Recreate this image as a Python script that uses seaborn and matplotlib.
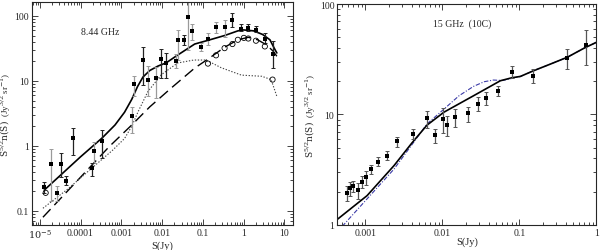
import numpy as np
import pandas as pd
import seaborn as sns
import matplotlib.pyplot as plt

# ---- 8.44 GHz panel ----
# data points with black error bars
s844_k = [1.3e-5, 3.4e-5, 4.5e-5, 6.5e-5, 1.95e-4, 3.4e-4, 3.4e-3, 9.3e-3, 1.25e-2, 3.4e-2, 0.53, 0.88, 1.28, 2.0, 3.3, 5.2]
n844_k = [0.23, 0.53, 0.29, 1.32, 0.45, 1.2, 21, 21.7, 18.9, 43, 88, 64, 66, 60, 45, 26]
lo844_k = [0.19, 0.33, 0.25, 0.72, 0.34, 0.65, 8.6, 11, 11, 36, 67, 58, 58, 56, 38, 16]
hi844_k = [0.28, 0.78, 0.34, 1.9, 0.55, 1.75, 33, 31, 26.6, 51, 111, 75, 75, 70, 55, 41]
# data points with grey error bars
s844_g = [1.9e-5, 2.6e-5, 2.1e-4, 1.8e-3, 2.0e-3, 4.4e-3, 6.9e-3, 2.24e-2, 2.4e-2, 4.4e-2, 5.5e-2, 0.089, 0.133, 0.21, 0.34]
n844_g = [0.53, 0.19, 0.85, 2.86, 9.0, 10.4, 11.1, 20, 43, 96, 58, 33, 45, 67, 67]
lo844_g = [0.14, 0.14, 0.55, 1.6, 5.8, 5.8, 5.5, 16, 21, 30, 43, 28.5, 36, 55, 48]
hi844_g = [0.9, 0.24, 1.15, 4.0, 12, 16.8, 16.5, 26, 61, 200, 75, 38, 55, 81, 88]
# open circles
s844_o = [1.4e-5, 0.133, 0.21, 0.34, 0.53, 0.72, 1.01, 1.3, 2.0, 3.3, 5.1]
n844_o = [0.19, 18.5, 24.8, 32, 37, 43, 46, 45, 41.6, 34, 10.5]
# model curves
tot_s = [1.3e-5, 1e-4, 3.4e-4, 7e-4, 1.2e-3, 1.8e-3, 2.5e-3, 3.4e-3, 5e-3, 8e-3, 0.0126, 0.024, 0.063, 0.13, 0.34, 0.72, 1.0, 1.75, 2.9, 4.4, 5.6, 6.5]
tot_n = [0.21, 0.68, 1.33, 2.1, 3.3, 5.2, 8.2, 11.5, 14.5, 17, 19, 25, 37, 42, 50, 59, 61, 59, 52, 43, 32, 27]
dash_s = [1.2e-5, 1e-4, 5e-4, 1.8e-3, 5e-3, 0.0168, 0.063, 0.133, 0.34, 0.72, 1.3, 2.2, 3.6, 5.2, 6.5]
dash_n = [0.08, 0.33, 0.97, 2.1, 4.0, 7.8, 15.8, 21.7, 33, 43, 47, 43, 36, 29, 24]
dot_s = [1.2e-5, 5e-5, 2e-4, 6e-4, 1.2e-3, 1.8e-3, 2.6e-3, 4.5e-3, 9.6e-3, 0.024, 0.06, 0.12, 0.28, 0.88, 2.8, 4.7, 6.5]
dot_n = [0.11, 0.22, 0.47, 0.85, 1.3, 2.0, 3.4, 6.9, 12.5, 18.9, 21, 21, 16, 12.3, 11.8, 10.5, 5.8]

# ---- 15 GHz (10C) panel ----
s15 = [5.7e-4, 6.3e-4, 7.0e-4, 7.9e-4, 9.1e-4, 1.03e-3, 1.19e-3, 1.44e-3, 1.92e-3, 2.6e-3, 4.2e-3, 6.3e-3, 8.1e-3,
       0.0102, 0.0116, 0.0147, 0.0213, 0.0291, 0.0366, 0.0523, 0.080, 0.149, 0.42, 0.73]
n15 = [1.95, 2.15, 2.27, 2.09, 2.47, 2.73, 3.2, 3.74, 4.24, 5.7, 6.65, 9.25, 6.5,
       9.1, 8.0, 9.44, 10.3, 12.4, 14.0, 16.4, 24.4, 22.4, 32.2, 42.6]
lo15 = [1.66, 1.84, 2.0, 1.7, 2.15, 2.3, 2.9, 3.4, 3.85, 5.1, 6.0, 7.5, 5.5,
        6.8, 6.4, 7.7, 8.6, 10.8, 12.2, 14.6, 21.2, 19.3, 25.8, 28]
hi15 = [2.24, 2.47, 2.5, 2.4, 2.8, 3.1, 3.5, 4.1, 4.65, 6.3, 7.4, 10.8, 7.4,
        11.4, 9.75, 11.2, 11.6, 14.3, 15.9, 18.0, 27.7, 25.8, 39, 58.6]
mod15_s = [4.3e-4, 1.05e-3, 2.35e-3, 4e-3, 6.3e-3, 0.0105, 0.0255, 0.0566, 0.08, 0.103, 0.153, 0.25, 0.42, 0.7, 1.0]
mod15_n = [1.12, 1.84, 3.44, 5.5, 8.0, 10.5, 14.8, 20.2, 21.5, 22.1, 24.9, 28.5, 33, 40, 45]
alt15_s = [5.0e-4, 1.05e-3, 2.35e-3, 4e-3, 6.3e-3, 0.0105, 0.0165, 0.0255, 0.035, 0.046, 0.06, 0.08, 0.103, 0.153, 0.25, 0.42, 0.7, 1.0]
alt15_n = [0.97, 1.72, 3.2, 5.3, 8.2, 11.2, 14.8, 18.0, 19.8, 20.5, 20.3, 21.2, 22.1, 24.9, 28.5, 33, 40, 45]

sns.set_style("ticks")
plt.rcParams["font.family"] = ["Liberation Serif", "DejaVu Serif"]
plt.rcParams["mathtext.fontset"] = "dejavuserif"

YLABEL = r"$\mathrm{S^{5/2}n(S)}$  (Jy$^{3/2}$ sr$^{-1}$)"


def errbars(ax, s, n, lo, hi, color):
    n = np.array(n)
    yerr = [n - np.array(lo), np.array(hi) - n]
    ax.errorbar(s, n, yerr=yerr, fmt="none", ecolor=color, elinewidth=0.9, capsize=1.6, capthick=0.7, zorder=2)


def curve(ax, s, n, **kw):
    df = pd.DataFrame({"S": s, "N": n})
    sns.lineplot(data=df, x="S", y="N", ax=ax, sort=False, estimator=None, **kw)


def style_axes(ax):
    ax.set_xscale("log")
    ax.set_yscale("log")
    ax.tick_params(which="both", direction="in", top=True, right=True, labelsize=7, width=0.6, pad=2)
    ax.tick_params(which="major", length=4)
    ax.tick_params(which="minor", length=2)
    for sp in ax.spines.values():
        sp.set_linewidth(0.8)
    ax.set_xlabel("S(Jy)", fontsize=7.5, labelpad=0)
    ax.set_ylabel(YLABEL, fontsize=6.5, labelpad=1)


fig = plt.figure(figsize=(6, 2.51), dpi=100)
ax1 = fig.add_axes([0.053, 0.100, 0.435, 0.888])
ax2 = fig.add_axes([0.562, 0.100, 0.432, 0.880])

# left panel
curve(ax1, tot_s, tot_n, color="black", linewidth=1.2)
curve(ax1, dash_s, dash_n, color="black", linewidth=1.0, linestyle=(0, (8, 4)))
curve(ax1, dot_s, dot_n, color="#444444", linewidth=0.8, linestyle=(0, (1.2, 1.5)))
errbars(ax1, s844_g, n844_g, lo844_g, hi844_g, "#9a9a9a")
errbars(ax1, s844_k, n844_k, lo844_k, hi844_k, "#222222")
sns.scatterplot(x=s844_k + s844_g, y=n844_k + n844_g, ax=ax1, marker="s", s=7, color="black", linewidth=0, zorder=3)
sns.scatterplot(x=s844_o, y=n844_o, ax=ax1, marker="o", s=14, facecolors="none", edgecolors="black", linewidth=0.6, zorder=3)
style_axes(ax1)
ax1.set_xlim(6.4e-6, 16)
ax1.set_ylim(0.061, 164)
ax1.set_xticks([1e-5, 1e-4, 1e-3, 1e-2, 0.1, 1, 10],
               [r"$10^{-5}$", "0.0001", "0.001", "0.01", "0.1", "1", "10"])
ax1.set_yticks([0.1, 1, 10, 100], ["0.1", "1", "10", "100"])
ax1.text(0.19, 0.866, "8.44 GHz", transform=ax1.transAxes, fontsize=7, va="center")

# right panel
curve(ax2, alt15_s, alt15_n, color="#3b3ba8", linewidth=0.8, linestyle=(0, (4, 1.5, 1, 1.5)))
curve(ax2, mod15_s, mod15_n, color="black", linewidth=1.2)
errbars(ax2, s15, n15, lo15, hi15, "#555555")
sns.scatterplot(x=s15, y=n15, ax=ax2, marker="s", s=7, color="black", linewidth=0, zorder=3)
style_axes(ax2)
ax2.set_xlim(4.3e-4, 1.0)
ax2.set_ylim(1, 100)
ax2.set_xticks([1e-3, 1e-2, 0.1, 1], ["0.001", "0.01", "0.1", "1"])
ax2.set_yticks([1, 10, 100], ["1", "10", "100"])
ax2.text(0.37, 0.914, "15 GHz  (10C)", transform=ax2.transAxes, fontsize=7, va="center")

fig.savefig("out.png", dpi=100)
